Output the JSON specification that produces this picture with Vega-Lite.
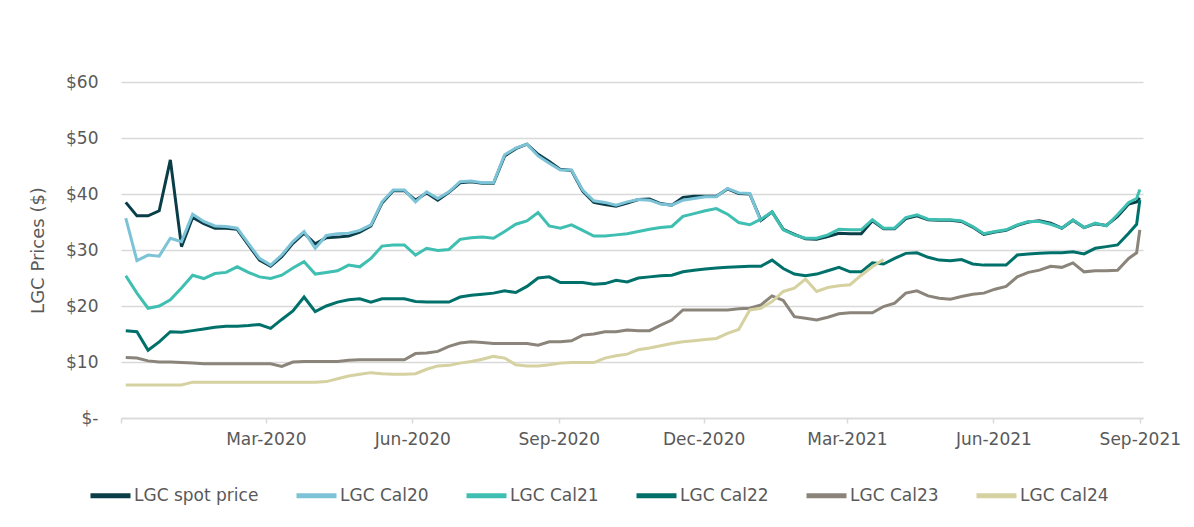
{
  "$schema": "https://vega.github.io/schema/vega-lite/v6.json",
  "width": 1022,
  "height": 336,
  "autosize": "none",
  "padding": {"left": 121, "top": 82, "right": 51, "bottom": 109},
  "background": "white",
  "config": {
    "view": {"stroke": null},
    "font": "DejaVu Sans",
    "axis": {"labelFont": "DejaVu Sans", "labelColor": "#595959", "titleFont": "DejaVu Sans", "titleColor": "#595959"},
    "legend": {"labelFont": "DejaVu Sans", "labelColor": "#595959"}
  },
  "data": {
    "values": [
      {"d":"2019-12-04","LGC spot price":38.5,"LGC Cal20":35.7,"LGC Cal21":25.4,"LGC Cal22":15.6,"LGC Cal23":10.8,"LGC Cal24":5.9},
      {"d":"2019-12-11","LGC spot price":36.1,"LGC Cal20":28.1,"LGC Cal21":22.3,"LGC Cal22":15.4,"LGC Cal23":10.7,"LGC Cal24":5.9},
      {"d":"2019-12-18","LGC spot price":36.1,"LGC Cal20":29.1,"LGC Cal21":19.6,"LGC Cal22":12.1,"LGC Cal23":10.2,"LGC Cal24":5.9},
      {"d":"2019-12-25","LGC spot price":37.0,"LGC Cal20":28.9,"LGC Cal21":20.0,"LGC Cal22":13.6,"LGC Cal23":10.0,"LGC Cal24":5.9},
      {"d":"2020-01-01","LGC spot price":46.1,"LGC Cal20":32.1,"LGC Cal21":21.1,"LGC Cal22":15.4,"LGC Cal23":10.0,"LGC Cal24":5.9},
      {"d":"2020-01-08","LGC spot price":30.6,"LGC Cal20":31.5,"LGC Cal21":23.2,"LGC Cal22":15.3,"LGC Cal23":9.9,"LGC Cal24":5.9},
      {"d":"2020-01-15","LGC spot price":35.8,"LGC Cal20":36.4,"LGC Cal21":25.5,"LGC Cal22":15.6,"LGC Cal23":9.8,"LGC Cal24":6.4},
      {"d":"2020-01-22","LGC spot price":34.7,"LGC Cal20":35.1,"LGC Cal21":24.9,"LGC Cal22":15.9,"LGC Cal23":9.7,"LGC Cal24":6.4},
      {"d":"2020-01-29","LGC spot price":33.9,"LGC Cal20":34.3,"LGC Cal21":25.8,"LGC Cal22":16.2,"LGC Cal23":9.7,"LGC Cal24":6.4},
      {"d":"2020-02-05","LGC spot price":33.9,"LGC Cal20":34.2,"LGC Cal21":26.0,"LGC Cal22":16.4,"LGC Cal23":9.7,"LGC Cal24":6.4},
      {"d":"2020-02-12","LGC spot price":33.7,"LGC Cal20":33.9,"LGC Cal21":27.0,"LGC Cal22":16.4,"LGC Cal23":9.7,"LGC Cal24":6.4},
      {"d":"2020-02-19","LGC spot price":30.9,"LGC Cal20":31.2,"LGC Cal21":26.0,"LGC Cal22":16.5,"LGC Cal23":9.7,"LGC Cal24":6.4},
      {"d":"2020-02-26","LGC spot price":28.2,"LGC Cal20":28.5,"LGC Cal21":25.2,"LGC Cal22":16.7,"LGC Cal23":9.7,"LGC Cal24":6.4},
      {"d":"2020-03-04","LGC spot price":27.1,"LGC Cal20":27.3,"LGC Cal21":24.9,"LGC Cal22":16.0,"LGC Cal23":9.7,"LGC Cal24":6.4},
      {"d":"2020-03-11","LGC spot price":28.8,"LGC Cal20":29.1,"LGC Cal21":25.5,"LGC Cal22":17.6,"LGC Cal23":9.2,"LGC Cal24":6.4},
      {"d":"2020-03-18","LGC spot price":31.2,"LGC Cal20":31.5,"LGC Cal21":26.8,"LGC Cal22":19.1,"LGC Cal23":10.0,"LGC Cal24":6.4},
      {"d":"2020-03-25","LGC spot price":33.0,"LGC Cal20":33.3,"LGC Cal21":27.9,"LGC Cal22":21.6,"LGC Cal23":10.1,"LGC Cal24":6.4},
      {"d":"2020-04-01","LGC spot price":31.1,"LGC Cal20":30.3,"LGC Cal21":25.7,"LGC Cal22":19.0,"LGC Cal23":10.1,"LGC Cal24":6.4},
      {"d":"2020-04-08","LGC spot price":32.2,"LGC Cal20":32.6,"LGC Cal21":26.0,"LGC Cal22":20.0,"LGC Cal23":10.1,"LGC Cal24":6.5},
      {"d":"2020-04-15","LGC spot price":32.3,"LGC Cal20":32.9,"LGC Cal21":26.3,"LGC Cal22":20.7,"LGC Cal23":10.1,"LGC Cal24":7.0},
      {"d":"2020-04-22","LGC spot price":32.5,"LGC Cal20":33.0,"LGC Cal21":27.3,"LGC Cal22":21.1,"LGC Cal23":10.3,"LGC Cal24":7.5},
      {"d":"2020-04-29","LGC spot price":33.2,"LGC Cal20":33.5,"LGC Cal21":27.0,"LGC Cal22":21.3,"LGC Cal23":10.4,"LGC Cal24":7.8},
      {"d":"2020-05-06","LGC spot price":34.3,"LGC Cal20":34.5,"LGC Cal21":28.5,"LGC Cal22":20.7,"LGC Cal23":10.4,"LGC Cal24":8.1},
      {"d":"2020-05-13","LGC spot price":38.4,"LGC Cal20":38.6,"LGC Cal21":30.7,"LGC Cal22":21.3,"LGC Cal23":10.4,"LGC Cal24":7.9},
      {"d":"2020-05-20","LGC spot price":40.6,"LGC Cal20":40.7,"LGC Cal21":30.9,"LGC Cal22":21.3,"LGC Cal23":10.4,"LGC Cal24":7.8},
      {"d":"2020-05-27","LGC spot price":40.6,"LGC Cal20":40.7,"LGC Cal21":30.9,"LGC Cal22":21.3,"LGC Cal23":10.4,"LGC Cal24":7.8},
      {"d":"2020-06-03","LGC spot price":38.9,"LGC Cal20":38.6,"LGC Cal21":29.1,"LGC Cal22":20.8,"LGC Cal23":11.5,"LGC Cal24":7.9},
      {"d":"2020-06-10","LGC spot price":40.2,"LGC Cal20":40.4,"LGC Cal21":30.3,"LGC Cal22":20.7,"LGC Cal23":11.6,"LGC Cal24":8.7},
      {"d":"2020-06-17","LGC spot price":38.9,"LGC Cal20":39.2,"LGC Cal21":29.9,"LGC Cal22":20.7,"LGC Cal23":11.9,"LGC Cal24":9.3},
      {"d":"2020-06-24","LGC spot price":40.3,"LGC Cal20":40.4,"LGC Cal21":30.1,"LGC Cal22":20.7,"LGC Cal23":12.8,"LGC Cal24":9.4},
      {"d":"2020-07-01","LGC spot price":42.0,"LGC Cal20":42.2,"LGC Cal21":31.9,"LGC Cal22":21.6,"LGC Cal23":13.4,"LGC Cal24":9.8},
      {"d":"2020-07-08","LGC spot price":42.2,"LGC Cal20":42.3,"LGC Cal21":32.2,"LGC Cal22":21.9,"LGC Cal23":13.6,"LGC Cal24":10.1},
      {"d":"2020-07-15","LGC spot price":41.9,"LGC Cal20":42.0,"LGC Cal21":32.3,"LGC Cal22":22.1,"LGC Cal23":13.5,"LGC Cal24":10.5},
      {"d":"2020-07-22","LGC spot price":41.9,"LGC Cal20":42.0,"LGC Cal21":32.1,"LGC Cal22":22.3,"LGC Cal23":13.3,"LGC Cal24":11.0},
      {"d":"2020-07-29","LGC spot price":46.8,"LGC Cal20":47.0,"LGC Cal21":33.3,"LGC Cal22":22.7,"LGC Cal23":13.3,"LGC Cal24":10.7},
      {"d":"2020-08-05","LGC spot price":48.1,"LGC Cal20":48.2,"LGC Cal21":34.6,"LGC Cal22":22.4,"LGC Cal23":13.3,"LGC Cal24":9.5},
      {"d":"2020-08-12","LGC spot price":48.9,"LGC Cal20":48.9,"LGC Cal21":35.2,"LGC Cal22":23.5,"LGC Cal23":13.3,"LGC Cal24":9.3},
      {"d":"2020-08-19","LGC spot price":47.1,"LGC Cal20":46.8,"LGC Cal21":36.7,"LGC Cal22":25.0,"LGC Cal23":13.0,"LGC Cal24":9.3},
      {"d":"2020-08-26","LGC spot price":45.8,"LGC Cal20":45.5,"LGC Cal21":34.3,"LGC Cal22":25.2,"LGC Cal23":13.6,"LGC Cal24":9.5},
      {"d":"2020-09-02","LGC spot price":44.4,"LGC Cal20":44.3,"LGC Cal21":33.9,"LGC Cal22":24.2,"LGC Cal23":13.6,"LGC Cal24":9.8},
      {"d":"2020-09-09","LGC spot price":44.2,"LGC Cal20":44.3,"LGC Cal21":34.5,"LGC Cal22":24.2,"LGC Cal23":13.8,"LGC Cal24":9.9},
      {"d":"2020-09-16","LGC spot price":40.5,"LGC Cal20":40.7,"LGC Cal21":33.5,"LGC Cal22":24.2,"LGC Cal23":14.8,"LGC Cal24":9.9},
      {"d":"2020-09-23","LGC spot price":38.5,"LGC Cal20":38.8,"LGC Cal21":32.5,"LGC Cal22":23.9,"LGC Cal23":15.0,"LGC Cal24":9.9},
      {"d":"2020-09-30","LGC spot price":38.1,"LGC Cal20":38.5,"LGC Cal21":32.5,"LGC Cal22":24.0,"LGC Cal23":15.4,"LGC Cal24":10.7},
      {"d":"2020-10-07","LGC spot price":37.8,"LGC Cal20":38.0,"LGC Cal21":32.7,"LGC Cal22":24.6,"LGC Cal23":15.4,"LGC Cal24":11.1},
      {"d":"2020-10-14","LGC spot price":38.4,"LGC Cal20":38.6,"LGC Cal21":32.9,"LGC Cal22":24.3,"LGC Cal23":15.7,"LGC Cal24":11.4},
      {"d":"2020-10-21","LGC spot price":39.0,"LGC Cal20":39.0,"LGC Cal21":33.3,"LGC Cal22":25.0,"LGC Cal23":15.6,"LGC Cal24":12.2},
      {"d":"2020-10-28","LGC spot price":39.1,"LGC Cal20":38.9,"LGC Cal21":33.7,"LGC Cal22":25.2,"LGC Cal23":15.6,"LGC Cal24":12.5},
      {"d":"2020-11-04","LGC spot price":38.3,"LGC Cal20":38.2,"LGC Cal21":34.0,"LGC Cal22":25.4,"LGC Cal23":16.6,"LGC Cal24":12.9},
      {"d":"2020-11-11","LGC spot price":38.0,"LGC Cal20":38.0,"LGC Cal21":34.2,"LGC Cal22":25.5,"LGC Cal23":17.5,"LGC Cal24":13.3},
      {"d":"2020-11-18","LGC spot price":39.4,"LGC Cal20":38.9,"LGC Cal21":36.0,"LGC Cal22":26.1,"LGC Cal23":19.3,"LGC Cal24":13.6},
      {"d":"2020-11-25","LGC spot price":39.6,"LGC Cal20":39.2,"LGC Cal21":36.5,"LGC Cal22":26.4,"LGC Cal23":19.3,"LGC Cal24":13.8},
      {"d":"2020-12-02","LGC spot price":39.6,"LGC Cal20":39.5,"LGC Cal21":37.0,"LGC Cal22":26.6,"LGC Cal23":19.3,"LGC Cal24":14.0},
      {"d":"2020-12-09","LGC spot price":39.6,"LGC Cal20":39.5,"LGC Cal21":37.4,"LGC Cal22":26.8,"LGC Cal23":19.3,"LGC Cal24":14.2},
      {"d":"2020-12-16","LGC spot price":40.9,"LGC Cal20":41.0,"LGC Cal21":36.4,"LGC Cal22":26.9,"LGC Cal23":19.3,"LGC Cal24":15.1},
      {"d":"2020-12-23","LGC spot price":40.1,"LGC Cal20":40.2,"LGC Cal21":34.9,"LGC Cal22":27.0,"LGC Cal23":19.5,"LGC Cal24":15.8},
      {"d":"2020-12-30","LGC spot price":40.0,"LGC Cal20":40.1,"LGC Cal21":34.5,"LGC Cal22":27.1,"LGC Cal23":19.6,"LGC Cal24":19.3},
      {"d":"2021-01-06","LGC spot price":35.3,"LGC Cal20":35.1,"LGC Cal21":35.5,"LGC Cal22":27.1,"LGC Cal23":20.2,"LGC Cal24":19.6},
      {"d":"2021-01-13","LGC spot price":36.8,"LGC Cal21":36.8,"LGC Cal22":28.2,"LGC Cal23":21.8,"LGC Cal24":20.8},
      {"d":"2021-01-20","LGC spot price":33.7,"LGC Cal21":33.6,"LGC Cal22":26.7,"LGC Cal23":21.0,"LGC Cal24":22.6},
      {"d":"2021-01-27","LGC spot price":32.8,"LGC Cal21":32.7,"LGC Cal22":25.7,"LGC Cal23":18.1,"LGC Cal24":23.2},
      {"d":"2021-02-03","LGC spot price":32.0,"LGC Cal21":32.1,"LGC Cal22":25.4,"LGC Cal23":17.8,"LGC Cal24":24.8},
      {"d":"2021-02-10","LGC spot price":31.9,"LGC Cal21":32.1,"LGC Cal22":25.7,"LGC Cal23":17.5,"LGC Cal24":22.6},
      {"d":"2021-02-17","LGC spot price":32.4,"LGC Cal21":32.7,"LGC Cal22":26.3,"LGC Cal23":18.0,"LGC Cal24":23.3},
      {"d":"2021-02-24","LGC spot price":33.0,"LGC Cal21":33.7,"LGC Cal22":26.9,"LGC Cal23":18.6,"LGC Cal24":23.6},
      {"d":"2021-03-03","LGC spot price":32.9,"LGC Cal21":33.6,"LGC Cal22":26.1,"LGC Cal23":18.8,"LGC Cal24":23.8},
      {"d":"2021-03-10","LGC spot price":32.9,"LGC Cal21":33.6,"LGC Cal22":26.1,"LGC Cal23":18.8,"LGC Cal24":25.5},
      {"d":"2021-03-17","LGC spot price":35.2,"LGC Cal21":35.4,"LGC Cal22":27.7,"LGC Cal23":18.8,"LGC Cal24":27.0},
      {"d":"2021-03-24","LGC spot price":33.8,"LGC Cal21":33.9,"LGC Cal22":27.5,"LGC Cal23":19.9,"LGC Cal24":28.3},
      {"d":"2021-03-31","LGC spot price":33.8,"LGC Cal21":33.9,"LGC Cal22":28.5,"LGC Cal23":20.5},
      {"d":"2021-04-07","LGC spot price":35.6,"LGC Cal21":35.8,"LGC Cal22":29.4,"LGC Cal23":22.3},
      {"d":"2021-04-14","LGC spot price":36.1,"LGC Cal21":36.3,"LGC Cal22":29.5,"LGC Cal23":22.7},
      {"d":"2021-04-21","LGC spot price":35.4,"LGC Cal21":35.5,"LGC Cal22":28.7,"LGC Cal23":21.8},
      {"d":"2021-04-28","LGC spot price":35.3,"LGC Cal21":35.4,"LGC Cal22":28.2,"LGC Cal23":21.4},
      {"d":"2021-05-05","LGC spot price":35.3,"LGC Cal21":35.4,"LGC Cal22":28.1,"LGC Cal23":21.2},
      {"d":"2021-05-12","LGC spot price":35.1,"LGC Cal21":35.2,"LGC Cal22":28.3,"LGC Cal23":21.7},
      {"d":"2021-05-19","LGC spot price":34.1,"LGC Cal21":34.2,"LGC Cal22":27.5,"LGC Cal23":22.1},
      {"d":"2021-05-26","LGC spot price":32.8,"LGC Cal21":32.9,"LGC Cal22":27.3,"LGC Cal23":22.3},
      {"d":"2021-06-02","LGC spot price":33.2,"LGC Cal21":33.3,"LGC Cal22":27.3,"LGC Cal23":23.0},
      {"d":"2021-06-09","LGC spot price":33.5,"LGC Cal21":33.6,"LGC Cal22":27.3,"LGC Cal23":23.5},
      {"d":"2021-06-16","LGC spot price":34.4,"LGC Cal21":34.5,"LGC Cal22":29.1,"LGC Cal23":25.2},
      {"d":"2021-06-23","LGC spot price":35.0,"LGC Cal21":35.1,"LGC Cal22":29.3,"LGC Cal23":26.0},
      {"d":"2021-06-30","LGC spot price":35.2,"LGC Cal21":35.1,"LGC Cal22":29.4,"LGC Cal23":26.4},
      {"d":"2021-07-07","LGC spot price":34.8,"LGC Cal21":34.6,"LGC Cal22":29.5,"LGC Cal23":27.1},
      {"d":"2021-07-14","LGC spot price":33.9,"LGC Cal21":33.9,"LGC Cal22":29.5,"LGC Cal23":26.9},
      {"d":"2021-07-21","LGC spot price":35.3,"LGC Cal21":35.4,"LGC Cal22":29.7,"LGC Cal23":27.7},
      {"d":"2021-07-28","LGC spot price":34.0,"LGC Cal21":34.0,"LGC Cal22":29.3,"LGC Cal23":26.1},
      {"d":"2021-08-04","LGC spot price":34.7,"LGC Cal21":34.8,"LGC Cal22":30.3,"LGC Cal23":26.3},
      {"d":"2021-08-11","LGC spot price":34.4,"LGC Cal21":34.3,"LGC Cal22":30.6,"LGC Cal23":26.3},
      {"d":"2021-08-18","LGC spot price":36.0,"LGC Cal21":36.3,"LGC Cal22":30.9,"LGC Cal23":26.4},
      {"d":"2021-08-25","LGC spot price":38.2,"LGC Cal21":38.5,"LGC Cal22":33.0,"LGC Cal23":28.5},
      {"d":"2021-08-30","LGC spot price":38.6,"LGC Cal21":39.2,"LGC Cal22":34.6,"LGC Cal23":29.5},
      {"d":"2021-09-01","LGC spot price":39.3,"LGC Cal21":40.8,"LGC Cal22":38.9,"LGC Cal23":33.6}
    ]
  },
  "transform": [
    {"fold": ["LGC spot price", "LGC Cal20", "LGC Cal21", "LGC Cal22", "LGC Cal23", "LGC Cal24"], "as": ["series", "price"]}
  ],
  "mark": {"type": "line", "strokeWidth": 3, "invalid": "filter"},
  "encoding": {
    "x": {
      "field": "d",
      "type": "temporal",
      "scale": {"type": "utc", "domain": [{"year": 2019, "month": 12, "date": 1, "utc": true}, {"year": 2021, "month": 9, "date": 3, "utc": true}]},
      "axis": {
        "title": null,
        "grid": false,
        "values": [
          {"year": 2019, "month": 12, "date": 1, "utc": true},
          {"year": 2020, "month": 3, "date": 1, "utc": true},
          {"year": 2020, "month": 6, "date": 1, "utc": true},
          {"year": 2020, "month": 9, "date": 1, "utc": true},
          {"year": 2020, "month": 12, "date": 1, "utc": true},
          {"year": 2021, "month": 3, "date": 1, "utc": true},
          {"year": 2021, "month": 6, "date": 1, "utc": true},
          {"year": 2021, "month": 9, "date": 1, "utc": true}
        ],
        "labelExpr": "utcyear(datum.value) == 2019 ? '' : utcFormat(datum.value, '%b-%Y')",
        "labelFontSize": 17,
        "labelPadding": 8,
        "labelAngle": 0,
        "labelAlign": "center",
        "labelFlush": false,
        "labelOverlap": false,
        "domainColor": "#d9d9d9",
        "domainWidth": 1.5,
        "tickColor": "#d9d9d9",
        "tickWidth": 1.5,
        "tickSize": 5
      }
    },
    "y": {
      "field": "price",
      "type": "quantitative",
      "scale": {"domain": [0, 60], "nice": false, "zero": true},
      "axis": {
        "values": [0, 10, 20, 30, 40, 50, 60],
        "labelExpr": "datum.value == 0 ? '$-' : '$' + datum.value",
        "labelFontSize": 17,
        "labelPadding": 23,
        "ticks": false,
        "domain": false,
        "grid": true,
        "gridColor": "#d9d9d9",
        "gridWidth": 1.5,
        "title": "LGC Prices ($)",
        "titleFontSize": 18,
        "titleFontWeight": "normal",
        "titleX": -83,
        "titleY": 168,
        "titleAngle": 270,
        "titleAlign": "center",
        "titleBaseline": "middle"
      }
    },
    "color": {
      "field": "series",
      "type": "nominal",
      "scale": {
        "domain": ["LGC spot price", "LGC Cal20", "LGC Cal21", "LGC Cal22", "LGC Cal23", "LGC Cal24"],
        "range": ["#0a3d48", "#7dc3d7", "#3ebfb1", "#00716a", "#8b847a", "#d5d1a0"]
      },
      "legend": {
        "title": null,
        "orient": "none",
        "direction": "horizontal",
        "columns": 6,
        "legendX": -33,
        "legendY": 391,
        "symbolType": "stroke",
        "symbolSize": 1600,
        "symbolStrokeWidth": 5,
        "labelFontSize": 17,
        "labelOffset": 1,
        "labelLimit": 300,
        "columnPadding": 27
      }
    }
  }
}
